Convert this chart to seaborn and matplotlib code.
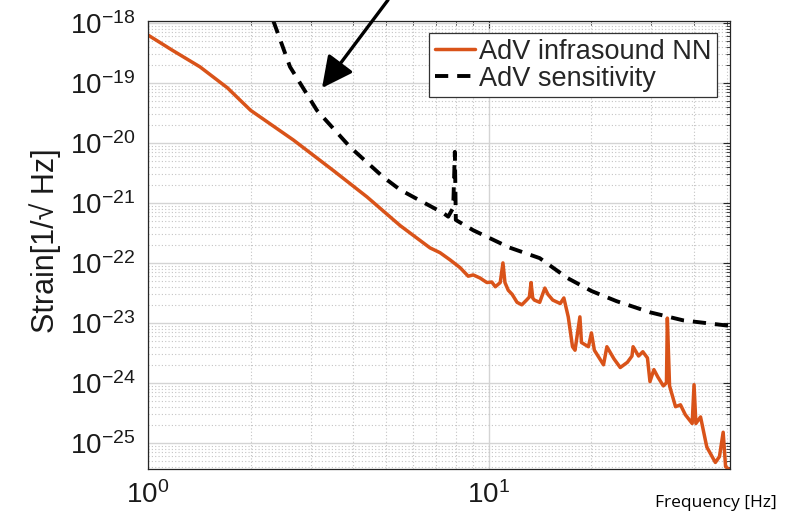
import numpy as np
import pandas as pd
import matplotlib
matplotlib.use("Agg")
import matplotlib.pyplot as plt
import seaborn as sns
from matplotlib.ticker import LogLocator, FuncFormatter, NullFormatter

# ---- data ----
nn_freq = [1.00, 1.18, 1.42, 1.71, 2.0, 2.67, 3.49, 4.39, 5.49, 6.72, 7.19, 7.7,
           8.24, 8.7, 9.0, 9.42, 9.87, 10.2, 10.45, 10.8, 11.0, 11.15, 11.4, 11.7,
           12.1, 12.5, 12.9, 13.15, 13.3, 13.45, 13.6, 14.1, 14.6, 14.9, 15.4, 16.2,
           16.6, 17.1, 17.6, 17.9, 18.5, 18.7, 19.6, 20.0, 20.4, 21.7, 22.2, 23.3,
           24.3, 25.5, 26.3, 26.5, 27.5, 28.3, 29.2, 29.7, 30.5, 31.3, 32.5, 33.2,
           33.4, 33.9, 35.3, 36.5, 37.7, 39.5, 40.0, 40.5, 41.8, 43.6, 46.2, 47.5,
           48.7, 49.5, 51.0]
nn_strain = [6.3e-19, 3.5e-19, 1.86e-19, 8.3e-20, 3.5e-20, 1.12e-20, 3.5e-21, 1.26e-21,
             4.2e-22, 1.78e-22, 1.48e-22, 1.12e-22, 8.3e-23, 6.0e-23, 6.3e-23, 5.6e-23,
             4.7e-23, 4.8e-23, 4.0e-23, 4.7e-23, 1.0e-22, 4.7e-23, 3.5e-23, 3.0e-23,
             2.2e-23, 2.0e-23, 2.4e-23, 2.7e-23, 4.7e-23, 2.6e-23, 2.4e-23, 2.2e-23,
             3.8e-23, 3.0e-23, 2.4e-23, 2.1e-23, 2.6e-23, 1.26e-23, 4.0e-24, 3.5e-24,
             1.26e-23, 4.7e-24, 4.0e-24, 6.8e-24, 3.5e-24, 2.0e-24, 4.0e-24, 2.5e-24,
             1.8e-24, 2.2e-24, 2.8e-24, 4.0e-24, 2.8e-24, 3.3e-24, 2.6e-24, 1.05e-24,
             1.66e-24, 1.26e-24, 8.9e-25, 1.0e-24, 1.2e-23, 8.9e-25, 4.0e-25, 4.3e-25,
             2.95e-25, 2.1e-25, 9.3e-25, 2.1e-25, 2.7e-25, 8.5e-26, 4.7e-26, 5.9e-26,
             1.5e-25, 4.0e-26, 3.5e-26]

sens_freq = [2.25, 2.33, 2.61, 3.13, 3.92, 4.9, 5.49, 6.0, 7.34, 7.6, 7.86, 7.95,
             8.0, 9.0, 11.5, 14.1, 17.0, 20.0, 23.7, 29.7, 37.2, 51.0]
sens_strain = [2.5e-18, 1.1e-18, 1.86e-19, 3.5e-20, 8.5e-21, 2.7e-21, 1.66e-21, 1.26e-21,
               6.8e-22, 5.9e-22, 8.3e-22, 7.1e-21, 5.2e-22, 3.5e-22, 1.8e-22, 1.2e-22,
               5.6e-23, 3.4e-23, 2.3e-23, 1.5e-23, 1.1e-23, 8.9e-24]

series_labels = ["AdV infrasound NN", "AdV sensitivity"]
x_ticks = [1, 10]
y_ticks = [1e-25, 1e-24, 1e-23, 1e-22, 1e-21, 1e-20, 1e-19, 1e-18]

df_nn = pd.DataFrame({"f": nn_freq, "h": nn_strain})
df_sens = pd.DataFrame({"f": sens_freq, "h": sens_strain})

# ---- style ----
sns.set_theme(style="white")
plt.rcParams["font.family"] = ["Liberation Sans", "DejaVu Sans"]
plt.rcParams["mathtext.fontset"] = "custom"
plt.rcParams["mathtext.rm"] = "Liberation Sans"
plt.rcParams["mathtext.it"] = "Liberation Sans:italic"
plt.rcParams["mathtext.bf"] = "Liberation Sans:bold"

fig = plt.figure(figsize=(8.06, 5.18), dpi=100)
ax = fig.add_axes([148 / 806, 1 - 468.7 / 518, 582 / 806, 447.7 / 518])

sns.lineplot(data=df_nn, x="f", y="h", ax=ax, color="#D95319", lw=2.5,
             label=series_labels[0], sort=False, estimator=None)
sns.lineplot(data=df_sens, x="f", y="h", ax=ax, color="black", lw=2.8,
             label=series_labels[1], sort=False, estimator=None)
ax.lines[1].set_linestyle((0, (3.4, 2.3)))
ax.lines[0].set_solid_joinstyle("round")

ax.set_xscale("log")
ax.set_yscale("log")
ax.set_xlim(1, 51)
ax.set_ylim(3.7e-26, 1.08e-18)

ax.set_xticks(x_ticks)
ax.set_yticks(y_ticks)
fmt = FuncFormatter(lambda v, p: r"$\mathregular{10^{%d}}$" % int(round(np.log10(v))))
ax.xaxis.set_major_formatter(fmt)
ax.yaxis.set_major_formatter(fmt)
ax.xaxis.set_minor_locator(LogLocator(base=10, subs=np.arange(2, 10), numticks=50))
ax.yaxis.set_minor_locator(LogLocator(base=10, subs=np.arange(2, 10), numticks=50))
ax.xaxis.set_minor_formatter(NullFormatter())
ax.yaxis.set_minor_formatter(NullFormatter())

ax.grid(which="major", color="#d4d4d4", lw=1.0, ls="-")
ax.grid(which="minor", color="#c4c4c4", lw=0.8, ls=(0, (1, 2)))
ax.set_axisbelow(True)

ax.tick_params(which="both", direction="in", top=True, right=True, colors="#262626",
               labelcolor="#1a1a1a")
ax.tick_params(which="major", length=5, width=0.8, labelsize=20)
ax.tick_params(axis="x", which="major", pad=9)
ax.tick_params(axis="y", which="major", pad=9)
ax.tick_params(which="minor", length=3, width=0.6)
for s in ax.spines.values():
    s.set_color("#262626")
    s.set_linewidth(0.9)
    s.set_visible(True)

ax.set_xlabel("")
ax.set_ylabel("Strain[1/\u221a Hz]", fontsize=22, color="#1a1a1a")
ax.yaxis.set_label_coords(-0.15, 0.509)

leg = ax.legend(loc="upper right", bbox_to_anchor=(0.978, 0.973), borderaxespad=0,
                fontsize=19.5, frameon=True, fancybox=False, framealpha=1,
                edgecolor="#333333", handlelength=1.5, handletextpad=0.15,
                borderpad=0.2, labelspacing=0.05)
leg.get_frame().set_linewidth(0.9)

ax.annotate("", xy=(322, 430), xycoords="figure pixels",
            xytext=(388, 518), textcoords="figure pixels",
            arrowprops=dict(arrowstyle="-|>,head_length=0.9,head_width=0.45",
                            lw=2.4, color="black", mutation_scale=21,
                            shrinkA=0, shrinkB=0),
            annotation_clip=False)

fig.text(655 / 806, 1 - 503 / 518, "Frequency [Hz]", family=["Open Sans", "DejaVu Sans"],
         fontsize=12.5, va="center", ha="left", color="black")

fig.savefig("out.png", dpi=100)
